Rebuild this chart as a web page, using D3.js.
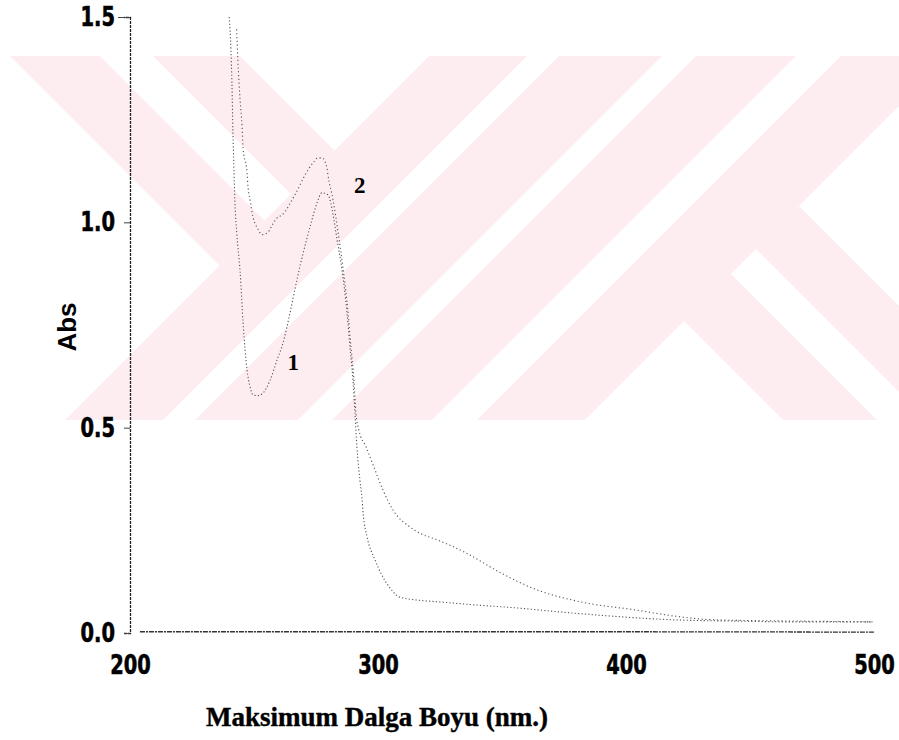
<!DOCTYPE html>
<html>
<head>
<meta charset="utf-8">
<script src="https://cdn.jsdelivr.net/npm/d3@7"></script>
<style>
  body { margin: 0; background: #fff; }
  svg { display: block; }
</style>
</head>
<body>
<div id="chart"></div>
<script>
// spectrum 1 (nm, Abs)
const wl1 = [240.0, 240.7, 241.1, 241.5, 241.9, 242.3, 243.1, 244.4, 245.6, 247.2, 248.4, 249.6, 251.5, 253.6, 256.5, 259.3, 261.7, 264.5, 267.3, 269.8, 272.6, 275.4, 277.4, 279.8, 281.9, 283.5, 285.5, 287.5, 288.7, 289.9, 290.7, 291.5, 292.7, 293.5, 294.0, 295.6, 298.8, 302.0, 305.2, 308.5, 316.1, 324.2, 340.0, 356.0, 372.0, 387.9, 404.0, 419.8, 444.0, 470.0, 499.6];
const abs1 = [1.50, 1.42, 1.34, 1.22, 1.13, 1.05, 0.97, 0.88, 0.755, 0.64, 0.60, 0.58, 0.578, 0.584, 0.616, 0.665, 0.706, 0.779, 0.86, 0.925, 0.989, 1.047, 1.072, 1.067, 1.018, 0.957, 0.884, 0.779, 0.696, 0.616, 0.536, 0.453, 0.373, 0.331, 0.292, 0.234, 0.178, 0.136, 0.107, 0.088, 0.080, 0.076, 0.068, 0.061, 0.052, 0.044, 0.037, 0.032, 0.029, 0.027, 0.027];

// spectrum 2 (nm, Abs)
const wl2 = [243.0, 243.5, 244.4, 245.2, 245.6, 247.2, 247.6, 248.4, 249.6, 251.5, 253.2, 255.5, 257.5, 259.3, 261.3, 266.5, 271.8, 273.8, 275.8, 277.4, 279.4, 279.8, 281.9, 283.9, 285.9, 287.9, 289.1, 290.3, 291.1, 292.3, 295.2, 298.8, 302.0, 306.0, 312.9, 316.9, 324.2, 335.5, 349.6, 364.1, 381.5, 404.0, 419.8, 435.9, 470.0, 499.6];
const abs2 = [1.47, 1.395, 1.298, 1.232, 1.181, 1.12, 1.086, 1.055, 1.013, 0.985, 0.97, 0.975, 0.995, 1.011, 1.018, 1.067, 1.128, 1.145, 1.157, 1.157, 1.133, 1.116, 1.054, 0.976, 0.889, 0.782, 0.696, 0.616, 0.536, 0.494, 0.453, 0.397, 0.348, 0.30, 0.258, 0.243, 0.226, 0.195, 0.146, 0.105, 0.076, 0.056, 0.041, 0.032, 0.029, 0.027];

// baseline
const wl0 = [204, 300, 400, 500];
const abs0 = [0.003, 0.003, 0.003, 0.002];

const xTicks = [200, 300, 400, 500];
const yTicks = [0.0, 0.5, 1.0, 1.5];

// curve labels: [text, nm, Abs]
const curveLabels = [["1", 265.8, 0.64], ["2", 292.6, 1.072]];

// watermark stripes, in u = x+y / v = x-y pixel units
const wmLeftV = [[-46, 44], [97, 184]];
const wmMidU = [[485, 583], [615, 718], [752, 852], [897, 1005]];
const wmRightV = [[363, 457], [507, 593]];

const width = 899, height = 740;
const margin = {left: 130, right: 25, top: 17, bottom: 107};

const svg = d3.select("#chart").append("svg")
  .attr("width", width)
  .attr("height", height);

// ---- watermark ----
svg.append("clipPath").attr("id", "wmclip")
  .append("rect").attr("x", 0).attr("y", 56).attr("width", width).attr("height", 364);

const wm = svg.append("g").attr("clip-path", "url(#wmclip)").attr("fill", "#fdedf1");
const big = 3000;
function uvPoly(u0, u1, v0, v1) {
  const pts = [[u0, v0], [u1, v0], [u1, v1], [u0, v1]];
  return pts.map(([u, v]) => [(u + v) / 2, (u - v) / 2].join(",")).join(" ");
}
wmLeftV.forEach(v => wm.append("polygon").attr("points", uvPoly(-big, 485, v[0], v[1])));
wmMidU.forEach(u => wm.append("polygon").attr("points", uvPoly(u[0], u[1], -big, big)));
wmRightV.forEach(v => wm.append("polygon").attr("points", uvPoly(1005, big, v[0], v[1])));

// ---- scales ----
const x = d3.scaleLinear().domain([200, 500]).range([margin.left, width - margin.right]);
const y = d3.scaleLinear().domain([0, 1.5]).range([height - margin.bottom, margin.top]);

const numFont = "'Liberation Sans Narrow', 'Arial Narrow', 'DejaVu Sans Condensed', sans-serif";
const squeeze = 0.8;

// y axis
const gy = svg.append("g")
  .attr("transform", `translate(${margin.left},0)`)
  .call(d3.axisLeft(y).tickValues(yTicks).tickFormat(d3.format(".1f")).tickSize(6).tickPadding(9));
gy.select(".domain").attr("stroke", "#222").attr("stroke-width", 1.3).attr("stroke-dasharray", "3 1");
gy.selectAll(".tick line").attr("stroke", "#444");
gy.selectAll(".tick text")
  .attr("font-family", numFont).attr("font-weight", "bold").attr("font-size", 27)
  .attr("fill", "#000").attr("stroke", "#000").attr("stroke-width", 0.6)
  .attr("x", -15 / squeeze)
  .attr("transform", `scale(${squeeze},1)`);
gy.select(".tick:last-of-type line").attr("x1", 0).attr("x2", -12);

// x axis (labels only)
const gx = svg.append("g")
  .attr("transform", `translate(0,${y(0)})`)
  .call(d3.axisBottom(x).tickValues(xTicks).tickFormat(d3.format("d")).tickSize(0).tickPadding(22));
gx.select(".domain").remove();
gx.selectAll(".tick text")
  .attr("font-family", numFont).attr("font-weight", "bold").attr("font-size", 27)
  .attr("fill", "#000").attr("stroke", "#000").attr("stroke-width", 0.6)
  .attr("transform", `scale(${squeeze},1)`);

// axis titles
svg.append("text")
  .attr("transform", `translate(76,${(y(1.0) + y(0.5)) / 2 + 2}) rotate(-90)`)
  .attr("text-anchor", "middle")
  .attr("font-family", "'Liberation Sans', Arial, sans-serif")
  .attr("font-weight", "bold").attr("font-size", 26)
  .text("Abs");

svg.append("text")
  .attr("x", 377).attr("y", 726)
  .attr("text-anchor", "middle")
  .attr("font-family", "'Liberation Serif', 'Times New Roman', serif")
  .attr("font-weight", "bold").attr("font-size", 27)
  .attr("stroke", "#000").attr("stroke-width", 0.4)
  .text("Maksimum Dalga Boyu (nm.)");

// ---- curves ----
svg.append("clipPath").attr("id", "plotclip")
  .append("rect").attr("x", margin.left).attr("y", margin.top)
  .attr("width", width - margin.left - margin.right + 4)
  .attr("height", height - margin.top - margin.bottom + 4);

const line = d3.line().x(d => x(d[0])).y(d => y(d[1])).curve(d3.curveMonotoneX);
const plot = svg.append("g").attr("clip-path", "url(#plotclip)").attr("fill", "none");

plot.append("path")
  .datum(d3.zip(wl0, abs0))
  .attr("d", line)
  .attr("stroke", "#333").attr("stroke-width", 1.3).attr("stroke-dasharray", "5 1 2 1");

plot.append("path")
  .datum(d3.zip(wl1, abs1))
  .attr("d", line)
  .attr("stroke", "#555").attr("stroke-width", 1.1).attr("stroke-dasharray", "1.2 2.2");

plot.append("path")
  .datum(d3.zip(wl2, abs2))
  .attr("d", line)
  .attr("stroke", "#555").attr("stroke-width", 1.1).attr("stroke-dasharray", "1.2 2.6");

svg.selectAll(".clabel")
  .data(curveLabels)
  .join("text")
  .attr("class", "clabel")
  .attr("x", d => x(d[1])).attr("y", d => y(d[2]))
  .attr("text-anchor", "middle")
  .attr("font-family", "'Liberation Serif', 'Times New Roman', serif")
  .attr("font-weight", "bold").attr("font-size", 23)
  .text(d => d[0]);
</script>
</body>
</html>
